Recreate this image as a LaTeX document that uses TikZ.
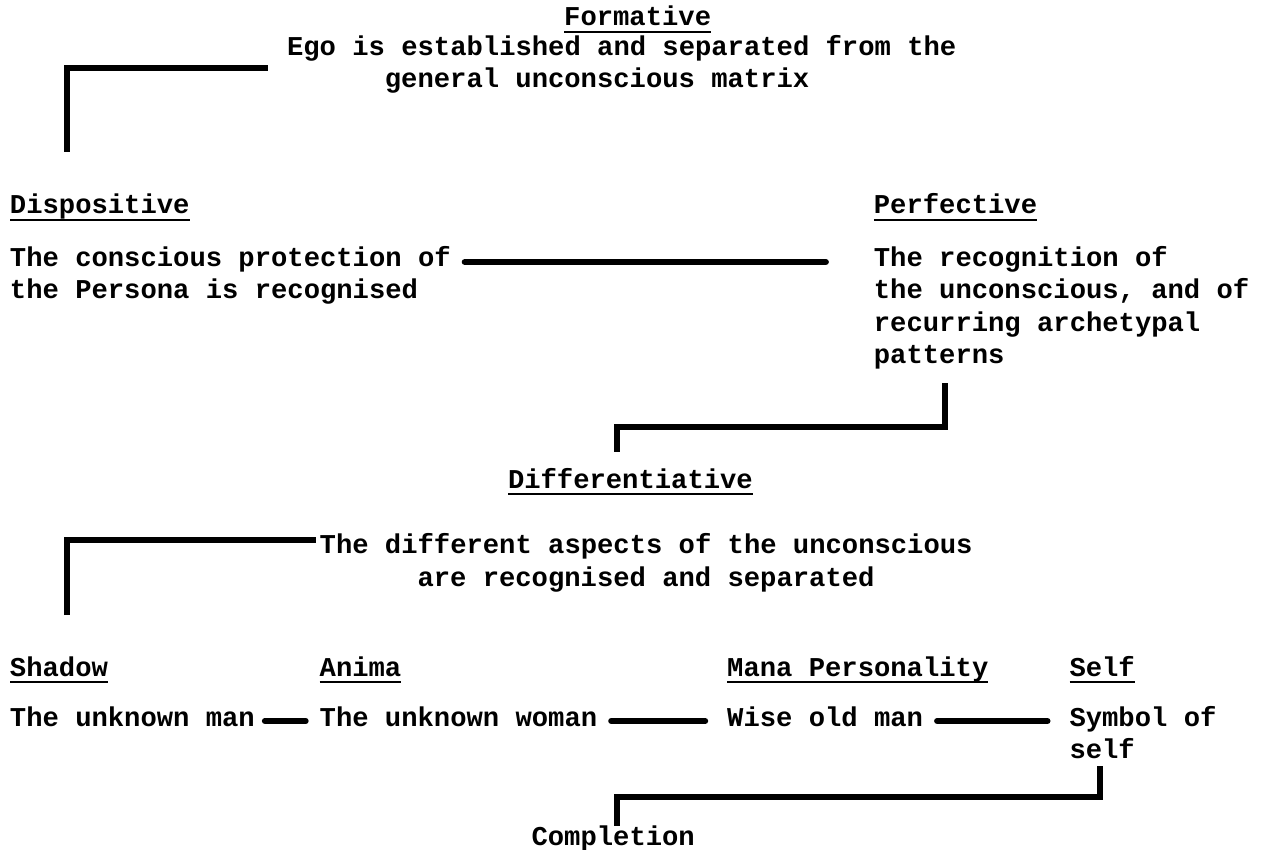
\documentclass[tikz,border=0pt]{standalone}
\usepackage{fontspec}
\setmonofont{Liberation Mono}
\begin{document}
\begin{tikzpicture}[x=0.5pt,y=-0.5pt,
        txt/.style={anchor=base west,inner sep=0pt,outer sep=0pt,font=\ttfamily\bfseries\fontsize{13.6pt}{16pt}\selectfont},
        bar/.style={line width=2.8pt},
        link/.style={line width=3pt,line cap=round},
        uline/.style={line width=1.1pt}]
        \useasboundingbox (0,0) rectangle (1263,850);
        \node[txt] (form) at (564.2, 26) {Formative};
        \node[txt] (ego1) at (287.1, 56) {Ego is established and separated from the};
        \node[txt] (ego2) at (384.9, 88) {general unconscious matrix};
        \node[txt] (disp) at (10, 214) {Dispositive};
        \node[txt] (disp1) at (10, 267) {The conscious protection of};
        \node[txt] (disp2) at (10, 299) {the Persona is recognised};
        \node[txt] (perf) at (873.9, 214) {Perfective};
        \node[txt] (perf1) at (873.9, 267) {The recognition of};
        \node[txt] (perf2) at (873.9, 299) {the unconscious, and of};
        \node[txt] (perf3) at (873.9, 331) {recurring archetypal};
        \node[txt] (perf4) at (873.9, 363) {patterns};
        \node[txt] (diff) at (508, 488) {Differentiative};
        \node[txt] (diff1) at (319.7, 553) {The different aspects of the unconscious};
        \node[txt] (diff2) at (417.5, 586) {are recognised and separated};
        \node[txt] (shad) at (10, 676) {Shadow};
        \node[txt] (anim) at (319.7, 676) {Anima};
        \node[txt] (mana) at (727.2, 676) {Mana Personality};
        \node[txt] (self) at (1069.5, 676) {Self};
        \node[txt] (shad1) at (10, 726) {The unknown man};
        \node[txt] (anim1) at (319.7, 726) {The unknown woman};
        \node[txt] (mana1) at (727.2, 726) {Wise old man};
        \node[txt] (self1) at (1069.5, 726) {Symbol of};
        \node[txt] (self2) at (1069.5, 758) {self};
        \node[txt] (compl) at (531.6, 845) {Completion};
        % underlined headings
        \draw[uline] ([yshift=-3pt]form.base west) -- ([yshift=-3pt]form.base east);
        \draw[uline] ([yshift=-3pt]disp.base west) -- ([yshift=-3pt]disp.base east);
        \draw[uline] ([yshift=-3pt]perf.base west) -- ([yshift=-3pt]perf.base east);
        \draw[uline] ([yshift=-3pt]diff.base west) -- ([yshift=-3pt]diff.base east);
        \draw[uline] ([yshift=-3pt]shad.base west) -- ([yshift=-3pt]shad.base east);
        \draw[uline] ([yshift=-3pt]anim.base west) -- ([yshift=-3pt]anim.base east);
        \draw[uline] ([yshift=-3pt]mana.base west) -- ([yshift=-3pt]mana.base east);
        \draw[uline] ([yshift=-3pt]self.base west) -- ([yshift=-3pt]self.base east);
        % brackets
        \coordinate (b1a) at (67, 152);
        \coordinate (b1b) at (268, 68);
        \draw[bar] (b1a) |- (b1b);
        \coordinate (b2a) at (945, 383);
        \coordinate (b2b) at (617, 452);
        \draw[bar] (b2a) -- ++(0, 44) -| (b2b);
        \coordinate (b3a) at (67, 615);
        \coordinate (b3b) at (316, 540);
        \draw[bar] (b3a) |- (b3b);
        \coordinate (b4a) at (1100, 766);
        \coordinate (b4b) at (617, 826);
        \draw[bar] (b4a) -- ++(0, 31) -| (b4b);
        % links
        \draw[link] ([xshift=7pt,yshift=2.5pt]disp1.base east) -- ([xshift=-24pt,yshift=2.5pt]perf1.base west);
        \draw[link] ([xshift=5pt,yshift=2.5pt]shad1.base east) -- ([xshift=-7pt,yshift=2.5pt]anim1.base west);
        \draw[link] ([xshift=7pt,yshift=2.5pt]anim1.base east) -- ([xshift=-11pt,yshift=2.5pt]mana1.base west);
        \draw[link] ([xshift=7pt,yshift=2.5pt]mana1.base east) -- ([xshift=-11pt,yshift=2.5pt]self1.base west);
\end{tikzpicture}
\end{document}
